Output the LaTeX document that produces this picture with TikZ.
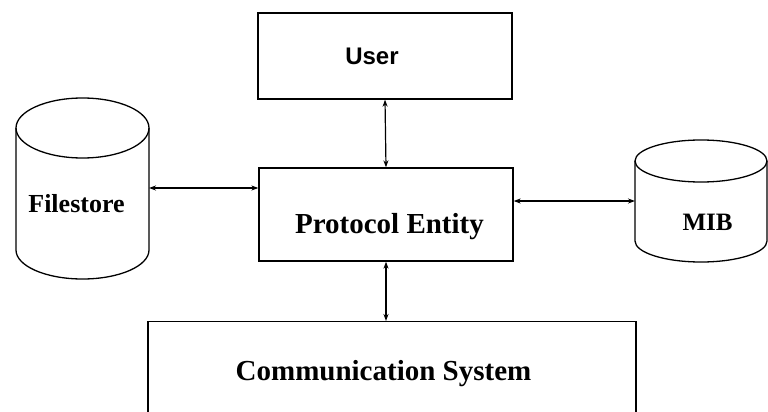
\documentclass[tikz,border=0pt]{standalone}
\usepackage{fontspec}
\setmainfont{Liberation Serif}
\newfontfamily\labelsans{Liberation Sans}
\usetikzlibrary{arrows.meta}
\begin{document}
\begin{tikzpicture}[x=1pt,y=-1pt,
  box/.style={draw,line width=1.3pt},
  link/.style={line width=1.2pt,{Stealth[length=7pt,width=5pt]}-{Stealth[length=7pt,width=5pt]}},
  seriflabel/.style={anchor=base,inner sep=0pt,font=\bfseries\fontsize{#1}{#1}\selectfont},
  sanslabel/.style={anchor=base,inner sep=0pt,font=\labelsans\bfseries\fontsize{#1}{#1}\selectfont}]
\useasboundingbox (0,0) rectangle (768,412);
\clip (0,0) rectangle (768,412);
\fill[white] (0,0) rectangle (768,412);

% rectangular blocks
\node[box,minimum width=254pt,minimum height=86pt,inner sep=0pt] (user) at (385,56) {};
\node[box,minimum width=254pt,minimum height=93pt,inner sep=0pt] (pe) at (386,214.5) {};
\node[box,minimum width=488pt,minimum height=130pt,inner sep=0pt,anchor=north] (cs) at (392,321) {};

% Filestore cylinder
\draw[line width=1.3pt] (16,128) -- (16,250) arc[start angle=180,end angle=360,x radius=66.5,y radius=-29]
  -- (149,128);
\draw[line width=1.3pt] (82.5,128) ellipse[x radius=66.5,y radius=30];
\coordinate (fsport) at (149,188);

% MIB cylinder
\draw[line width=1.3pt] (635,161) -- (635,241) arc[start angle=180,end angle=360,x radius=66,y radius=-21]
  -- (767,161);
\draw[line width=1.3pt] (701,161) ellipse[x radius=66,y radius=21];
\coordinate (mibport) at (635,201);

% labels
\node[sanslabel=24] (userlbl) at (372,65) {User};
\node[seriflabel=29] (pelbl) at (389.5,233) {Protocol Entity};
\node[seriflabel=29] (cslbl) at (383.5,380) {Communication System};
\node[seriflabel=26] (fslbl) at (76.5,212) {Filestore};
\node[seriflabel=25] (miblbl) at (707.5,230) {MIB};

% connectors
\draw[link] (user.south) -- (pe.north);
\draw[link] (pe.south) -- (cs.north -| pe.south);
\draw[link] (fsport) -- (fsport -| pe.west);
\draw[link] (pe.east |- mibport) -- (mibport);
\end{tikzpicture}
\end{document}
